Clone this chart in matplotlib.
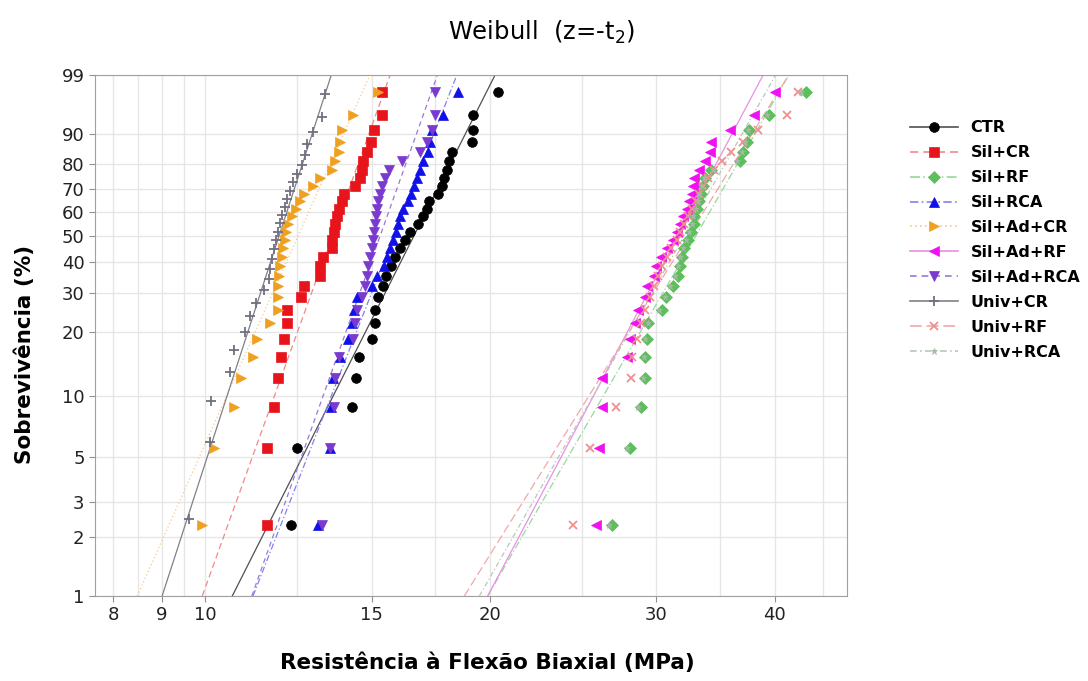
import numpy as np
import matplotlib
matplotlib.use("Agg")
from matplotlib import pyplot as plt
from matplotlib.lines import Line2D
from matplotlib.ticker import NullFormatter, NullLocator

# strengths (MPa), sorted, one list per group
ctr = [12.32, 12.50, 14.29, 14.43, 14.53, 15.01, 15.13, 15.13, 15.24, 15.41,
       15.55, 15.73, 15.88, 16.08, 16.27, 16.47, 16.79, 17.01, 17.15, 17.26,
       17.64, 17.79, 17.90, 18.01, 18.12, 18.23, 19.14, 19.18, 19.21, 20.42]
sil_cr = [11.63, 11.63, 11.83, 11.93, 12.03, 12.12, 12.20, 12.20, 12.62, 12.73,
          13.23, 13.23, 13.32, 13.61, 13.63, 13.67, 13.72, 13.78, 13.87, 13.95,
          14.01, 14.41, 14.58, 14.64, 14.70, 14.82, 14.98, 15.09, 15.40, 15.40]
sil_rf = [26.9, 28.1, 28.9, 29.2, 29.2, 29.3, 29.4, 30.4, 30.7, 31.2,
          31.6, 31.8, 31.9, 32.1, 32.4, 32.6, 32.9, 32.9, 33.1, 33.3,
          33.4, 33.6, 33.8, 34.3, 36.8, 37.0, 37.4, 37.6, 39.5, 43.2]
sil_rca = [13.17, 13.56, 13.60, 13.64, 13.90, 14.17, 14.31, 14.38, 14.48, 15.02,
           15.20, 15.46, 15.58, 15.69, 15.80, 15.92, 16.00, 16.08, 16.19, 16.39,
           16.51, 16.63, 16.75, 16.88, 17.00, 17.21, 17.29, 17.38, 17.85, 18.51]
sil_ad_cr = [9.93, 10.21, 10.72, 10.92, 11.25, 11.34, 11.72, 11.93, 11.93, 11.93,
             11.96, 12.01, 12.06, 12.10, 12.15, 12.18, 12.25, 12.35, 12.48, 12.61,
             12.71, 13.02, 13.23, 13.61, 13.72, 13.84, 13.90, 13.95, 14.33, 15.25]
sil_ad_rf = [25.9, 26.1, 26.3, 26.3, 27.9, 28.1, 28.5, 28.7, 29.2, 29.3,
             29.8, 30.0, 30.3, 30.8, 31.2, 31.5, 31.8, 32.0, 32.3, 32.5,
             32.7, 32.8, 32.9, 33.3, 33.8, 34.2, 34.3, 35.9, 38.0, 40.0]
sil_ad_rca = [13.29, 13.56, 13.67, 13.73, 13.84, 14.35, 14.41, 14.48, 14.65, 14.76,
              14.84, 14.88, 14.94, 15.02, 15.05, 15.09, 15.13, 15.17, 15.20, 15.25,
              15.31, 15.39, 15.50, 15.63, 16.14, 16.88, 17.15, 17.36, 17.50, 17.50]
univ_cr = [9.61, 10.13, 10.15, 10.62, 10.72, 11.03, 11.15, 11.33, 11.53, 11.67,
           11.72, 11.77, 11.83, 11.89, 11.93, 11.99, 12.06, 12.15, 12.22, 12.30,
           12.40, 12.51, 12.66, 12.76, 12.83, 13.02, 13.29, 13.40]
univ_rf = [24.5, 25.5, 27.2, 28.2, 28.3, 28.6, 28.9, 29.2, 29.5, 29.8,
           30.1, 30.4, 30.8, 31.1, 31.5, 31.8, 32.1, 32.4, 32.7, 33.0,
           33.3, 33.6, 34.0, 34.5, 35.2, 36.0, 37.0, 38.4, 41.2, 42.3]
univ_rca = [26.7, 27.9, 28.7, 29.0, 29.1, 29.2, 29.4, 30.2, 30.6, 31.0,
            31.4, 31.6, 31.8, 32.0, 32.2, 32.5, 32.7, 32.8, 33.0, 33.2,
            33.3, 33.5, 33.7, 34.4, 36.5, 36.9, 37.2, 37.5, 39.3, 42.6]

labels = ["CTR", "Sil+CR", "Sil+RF", "Sil+RCA", "Sil+Ad+CR", "Sil+Ad+RF",
          "Sil+Ad+RCA", "Univ+CR", "Univ+RF", "Univ+RCA"]
samples = [ctr, sil_cr, sil_rf, sil_rca, sil_ad_cr, sil_ad_rf,
           sil_ad_rca, univ_cr, univ_rf, univ_rca]
# fitted Weibull modulus and characteristic strength (MPa)
shape = [9.58, 13.40, 8.36, 12.35, 10.82, 9.14, 13.56, 14.88, 7.76, 8.5]
scale = [17.27, 14.00, 34.49, 16.31, 12.97, 32.91, 15.73, 12.27, 34.0, 33.5]

markers = ["o", "s", "D", "^", ">", "<", "v", "+", "x", "*"]
mcolors = ["black", "#e8141c", "#5cbf5c", "#1010e8", "#f0a020", "#f010f0",
           "#7a3ad0", "#707080", "#f09090", "#a8b8a8"]
lcolors = ["#505050", "#f08a8a", "#98d898", "#8080f0", "#f5c88a", "#e890e8",
           "#9a78d8", "#808088", "#f0a8a8", "#b8c8b8"]
lstyles = ["-", (0, (5, 3)), (0, (6, 2, 1, 2)), (0, (5, 2, 1, 2)), (0, (1, 2)),
           "-", (0, (4, 3)), "-", (0, (7, 3)), (0, (4, 2, 1, 2))]
msizes = [7, 6.5, 6, 7.5, 7.5, 7.5, 7.5, 7, 6, 5]


def fwd(p):
    p = np.clip(np.asarray(p, dtype=float), 1e-6, 100 - 1e-6)
    return np.log(-np.log(1 - p / 100))


def inv(t):
    return 100 * (1 - np.exp(-np.exp(t)))


fig = plt.figure(figsize=(10.88, 6.81), dpi=100)
ax = fig.add_axes([95 / 1088, 1 - 596 / 681, 752 / 1088, 521 / 681])

ax.set_xscale('log')
ax.set_yscale('function', functions=(fwd, inv))

pfit = np.array([1, 99])
for lab, xs, m, s, mk, mc, lc, ls, ms in zip(labels, samples, shape, scale, markers,
                                              mcolors, lcolors, lstyles, msizes):
    n = len(xs)
    # Bernard median ranks
    ranks = (np.arange(1, n + 1) - 0.3) / (n + 0.4) * 100
    xfit = s * np.exp(fwd(pfit) / m)
    ax.plot(xfit, pfit, color=lc, ls=ls, lw=0.9, zorder=2)
    ax.plot(xs, ranks, ls='none', marker=mk, color=mc, ms=ms,
            mew=1.3 if mk in "+x" else 0.5, zorder=3)

ax.set_xlim(7.65, 47.7)
ax.set_ylim(1, 99)

xt = [8, 9, 10, 15, 20, 30, 40]
ax.set_xticks(xt)
ax.set_xticklabels([str(v) for v in xt])
ax.set_xticks([8.5, 9.5, 12.5, 17.5, 25, 35, 45], minor=True)
ax.xaxis.set_minor_formatter(NullFormatter())
yt = [1, 2, 3, 5, 10, 20, 30, 40, 50, 60, 70, 80, 90, 99]
ax.set_yticks(yt)
ax.set_yticklabels([str(v) for v in yt])
ax.yaxis.set_minor_locator(NullLocator())

ax.grid(True, which='both', color='#e6e6e6', lw=1.0, zorder=0)
ax.set_axisbelow(True)
ax.tick_params(axis='both', which='major', labelsize=13, length=4, color='#909090',
               labelcolor='#222222')
ax.tick_params(axis='x', which='minor', length=0)
for sp in ax.spines.values():
    sp.set_color('#a0a0a0')

fig.text(0.498, 0.952, r'Weibull  (z=-t$_2$)', ha='center', va='center', fontsize=17.5)
fig.text(0.448, 0.027, 'Resistência à Flexão Biaxial (MPa)', ha='center',
         va='center', fontsize=15.5, fontweight='bold')
fig.text(0.023, 0.48, 'Sobrevivência (%)', ha='center', va='center', rotation=90,
         fontsize=15.5, fontweight='bold')

handles = [Line2D([], [], color=lc, ls=ls, lw=1.2, marker=mk, mfc=mc, mec=mc, ms=ms,
                  mew=1.3 if mk in "+x" else 0.5)
           for mk, mc, lc, ls, ms in zip(markers, mcolors, lcolors, lstyles, msizes)]
leg = ax.legend(handles, labels, loc='upper left', bbox_to_anchor=(1.075, 0.925),
                frameon=False, handlelength=3.0, labelspacing=0.62,
                prop={'weight': 'bold', 'size': 11.5}, borderaxespad=0)

fig.savefig('out.png', dpi=100)
